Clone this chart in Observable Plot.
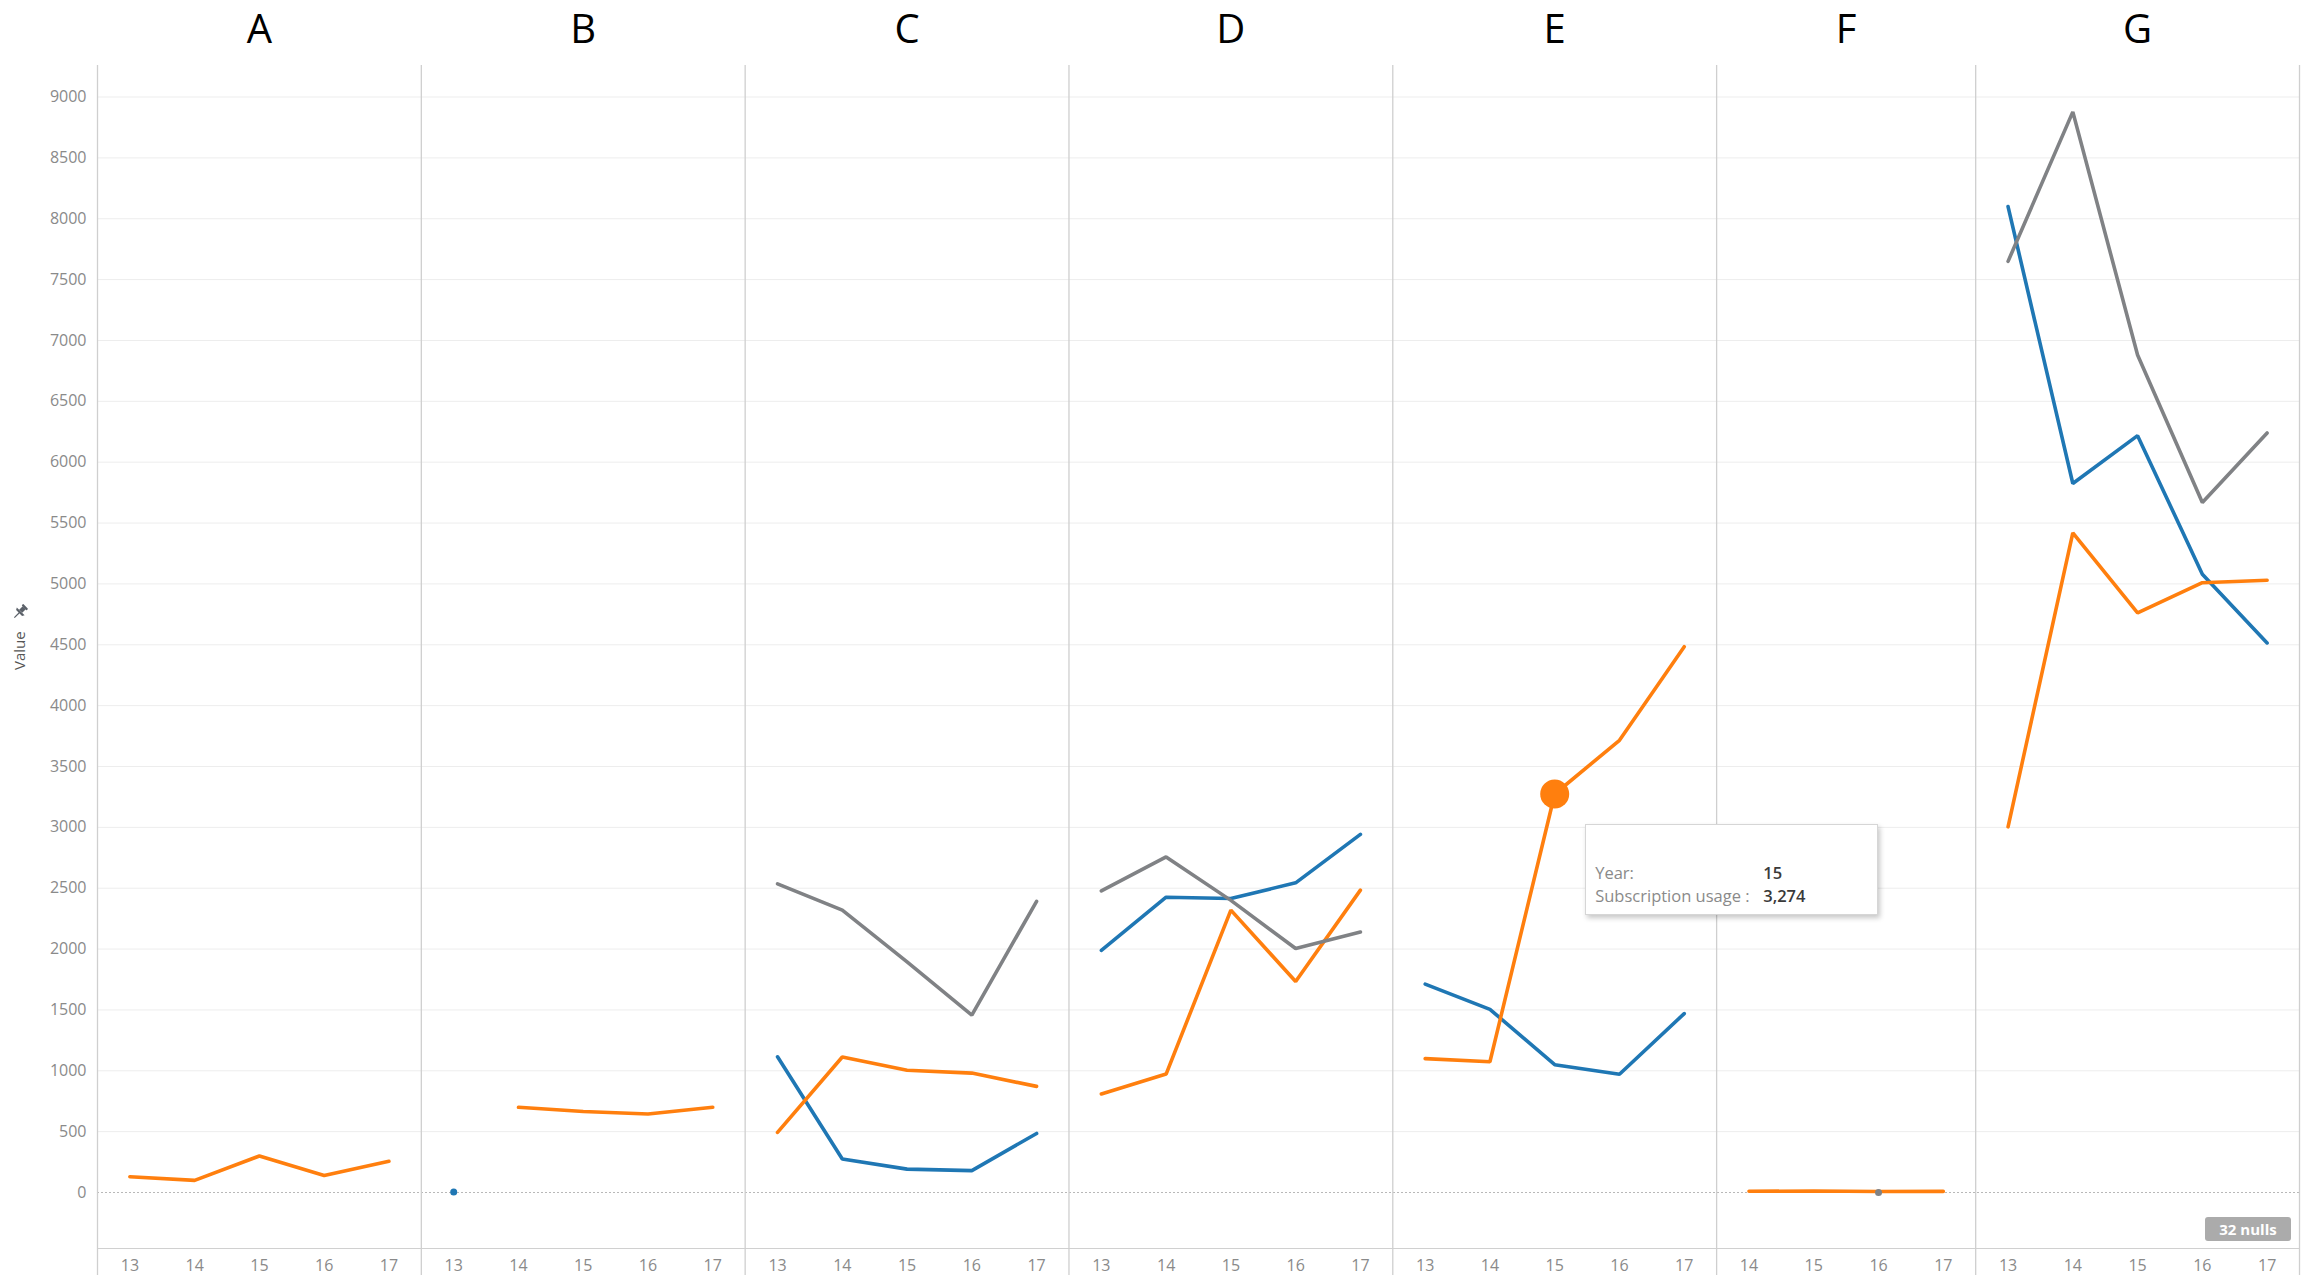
<!DOCTYPE html>
<html>
<head>
<meta charset="utf-8">
<script src="https://cdn.jsdelivr.net/npm/d3@7"></script>
<script src="https://cdn.jsdelivr.net/npm/@observablehq/plot@0.6"></script>
<style>
  html, body { margin: 0; padding: 0; background: #fff; overflow: hidden; }
  #wrap { position: relative; width: 2304px; height: 1282px; }
  .tip { position: absolute; width: 293px; height: 91px; box-sizing: border-box; background: #fff;
         border: 1px solid #d6d6d6; box-shadow: 2px 3px 5px rgba(0,0,0,0.22);
         font-family: "Open Sans", sans-serif; font-size: 16.5px; }
  .tip span { position: absolute; white-space: nowrap; line-height: 1; }
  .tip .lab { left: 9px; color: #8a8a8a; }
  .tip .val { left: 177px; color: #3a3a3a; font-weight: 600; }
  .nulls { position: absolute; width: 86px; height: 24px; background: #ababab; color: #fff;
           font-family: "Open Sans", sans-serif; font-weight: 700; font-size: 15px; line-height: 24px;
           text-align: center; border-radius: 3px; }
  .pin { position: absolute; left: 11px; top: 603px; }
</style>
</head>
<body>
<div id="wrap"></div>
<script>
// ---- data ----
const panels = ["A", "B", "C", "D", "E", "F", "G"];
const panelYears = [
  [13, 14, 15, 16, 17],
  [13, 14, 15, 16, 17],
  [13, 14, 15, 16, 17],
  [13, 14, 15, 16, 17],
  [13, 14, 15, 16, 17],
  [14, 15, 16, 17],
  [13, 14, 15, 16, 17]
];
const seriesNames = ["Series 1", "Series 2", "Series 3"];
const seriesColors = ["#1f77b4", "#ff7f0e", "#808285"];
const series1Values = [
  [null, null, null, null, null],
  [5, null, null, null, null],
  [1115, 275, 192, 180, 485],
  [1990, 2426, 2416, 2544, 2942],
  [1712, 1505, 1050, 972, 1470],
  [null, null, null, null],
  [8100, 5825, 6218, 5080, 4515]
];
const series2Values = [
  [130, 100, 300, 140, 256],
  [null, 700, 665, 645, 700],
  [494, 1113, 1004, 981, 872],
  [810, 973, 2320, 1733, 2484],
  [1100, 1074, 3274, 3715, 4484],
  [10, 12, 8, 9],
  [3004, 5420, 4762, 5010, 5030]
];
const series3Values = [
  [null, null, null, null, null],
  [null, null, null, null, null],
  [2536, 2320, 1895, 1458, 2392],
  [2478, 2757, 2400, 2005, 2140],
  [null, null, null, null, null],
  [null, null, 0, null],
  [7650, 8878, 6880, 5668, 6240]
];
const yTicks = [0, 500, 1000, 1500, 2000, 2500, 3000, 3500, 4000, 4500, 5000, 5500, 6000, 6500, 7000, 7500, 8000, 8500, 9000];
const yDomain = [-460, 9259];
const yLabel = "Value";
const highlightPanel = "E";
const highlightYear = 15;
const highlightSeries = "Series 2";
const tipLabels = ["Year:", "Subscription usage :"];
const nullsText = "32 nulls";

// ---- build rows ----
const valueSets = [series1Values, series2Values, series3Values];
const rows = [];
const panelInfo = [];
const yearLabel = [];
let offset = 0;
panels.forEach((p, pi) => {
  const yrs = panelYears[pi];
  panelInfo.push({panel: p, start: offset, end: offset + yrs.length - 1});
  yrs.forEach((yr, j) => {
    const idx = offset + j;
    yearLabel[idx] = String(yr);
    valueSets.forEach((arr, si) => {
      const v = arr[pi][j];
      const prev = j > 0 ? arr[pi][j - 1] : null;
      const next = j < yrs.length - 1 ? arr[pi][j + 1] : null;
      rows.push({panel: p, year: yr, idx, series: seriesNames[si], key: p + "|" + seriesNames[si],
                 value: v, isolated: v != null && prev == null && next == null});
    });
  });
  offset += yrs.length;
});
const nIdx = offset;
const boundaries = panelInfo.map(d => d.start - 0.5).concat([nIdx - 0.5]);
const isolated = rows.filter(d => d.isolated);
const hl = rows.filter(d => d.panel === highlightPanel && d.year === highlightYear && d.series === highlightSeries);

const chart = Plot.plot({
  width: 2304,
  height: 1282,
  marginTop: 65,
  marginBottom: 34,
  marginLeft: 97,
  marginRight: 5,
  style: {fontFamily: "'Open Sans', sans-serif", fontSize: "16px", color: "#8a8a8a", background: "#fff", overflow: "visible"},
  x: {type: "linear", domain: [-0.5, nIdx - 0.5], ticks: d3.range(nIdx), tickFormat: i => yearLabel[i],
      tickSize: 0, tickPadding: 11, label: null},
  y: {domain: yDomain, ticks: yTicks, tickSize: 0, tickPadding: 11, label: null, tickFormat: d => String(d)},
  color: {type: "ordinal", domain: seriesNames, range: seriesColors},
  marks: [
    Plot.ruleY(yTicks.filter(d => d !== 0), {stroke: "#ededed", strokeWidth: 1}),
    Plot.ruleY([0], {stroke: "#b8b8b8", strokeDasharray: "2,2", strokeWidth: 1}),
    Plot.ruleY([yDomain[0]], {stroke: "#d0d0d0", strokeWidth: 1.2}),
    Plot.ruleX(boundaries, {stroke: "#cfcfcf", strokeWidth: 1.3, insetBottom: -27}),
    Plot.line(rows, {x: "idx", y: "value", z: "key", stroke: "series", strokeWidth: 3.6, strokeLinejoin: "miter"}),
    Plot.dot(isolated, {x: "idx", y: "value", fill: "series", r: 3.5}),
    Plot.dot(hl, {x: "idx", y: "value", fill: "series", r: 14.5}),
    Plot.text(panelInfo, {x: d => (d.start + d.end) / 2, text: "panel", frameAnchor: "top", dy: -35,
                          lineAnchor: "middle", fontSize: 40, fill: "#000"}),
    Plot.text([yLabel], {text: d => d, frameAnchor: "left", dx: -77, dy: 13, rotate: -90, fill: "#555", fontSize: 15})
  ]
});

const wrap = document.getElementById("wrap");
wrap.appendChild(chart);

// pin glyph next to the axis title
const pin = document.createElement("div");
pin.className = "pin";
pin.innerHTML = '<svg width="18" height="18" viewBox="0 0 18 18"><g transform="rotate(45 9 9)" fill="#5b6169">' +
  '<rect x="5.5" y="1" width="7" height="2.2" rx="0.6"/><rect x="6.8" y="3" width="4.4" height="5"/>' +
  '<path d="M3.5 8 L14.5 8 L13.2 10.3 L4.8 10.3 Z"/><rect x="8.4" y="10" width="1.2" height="7"/></g></svg>';
wrap.appendChild(pin);

// tooltip anchored to highlighted point
const xs = chart.scale("x"), ys = chart.scale("y");
const h = hl[0];
const px = xs.apply(h.idx), py = ys.apply(h.value);
const tip = document.createElement("div");
tip.className = "tip";
tip.style.left = (px + 31) + "px";
tip.style.top = (py + 31) + "px";
const vals = [String(h.year), d3.format(",")(h.value)];
tipLabels.forEach((t, i) => {
  const a = document.createElement("span"); a.className = "lab"; a.textContent = t; a.style.top = (40 + i * 23) + "px";
  const b = document.createElement("span"); b.className = "val"; b.textContent = vals[i]; b.style.top = (40 + i * 23) + "px";
  tip.appendChild(a); tip.appendChild(b);
});
wrap.appendChild(tip);

// nulls badge in lower right of plot
const badge = document.createElement("div");
badge.className = "nulls";
badge.textContent = nullsText;
badge.style.left = (xs.apply(nIdx - 0.5) - 94) + "px";
badge.style.top = (ys.apply(yDomain[0]) - 31) + "px";
wrap.appendChild(badge);
</script>
</body>
</html>
